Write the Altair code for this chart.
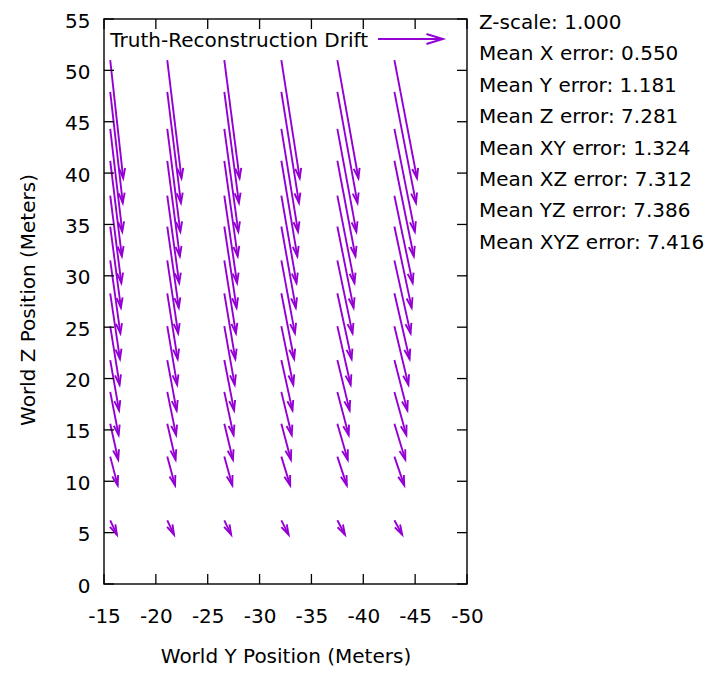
import math
import altair as alt
import pandas as pd

# ---------------- data ----------------
col_y = [-15.6, -21.1, -26.6, -32.1, -37.5, -43.0]          # truth Y of each column
z_start = [6.2, 12.4, 15.6, 18.7, 21.8, 25.1, 28.3, 31.5, 34.8, 37.8, 41.2, 44.3, 47.9, 51.0]
z_end = [4.8, 9.6, 12.1, 14.5, 16.9, 19.4, 21.9, 24.4, 26.9, 29.3, 31.9, 34.3, 37.1, 39.5]
# drift towards more negative Y, per column, per level
y_drift = [
    [0.64, 0.72, 0.77, 0.81, 0.85, 0.90, 0.94, 0.98, 1.03, 1.07, 1.12, 1.16, 1.21, 1.25],
    [0.65, 0.75, 0.80, 0.85, 0.90, 0.95, 1.00, 1.05, 1.11, 1.15, 1.21, 1.26, 1.32, 1.37],
    [0.66, 0.77, 0.83, 0.89, 0.94, 1.00, 1.06, 1.12, 1.18, 1.23, 1.29, 1.35, 1.41, 1.47],
    [0.70, 0.85, 0.92, 1.00, 1.07, 1.15, 1.23, 1.31, 1.39, 1.46, 1.54, 1.61, 1.70, 1.77],
    [0.73, 0.91, 1.00, 1.09, 1.18, 1.28, 1.37, 1.46, 1.56, 1.65, 1.74, 1.83, 1.94, 2.03],
    [0.75, 0.95, 1.05, 1.15, 1.25, 1.35, 1.46, 1.56, 1.66, 1.76, 1.87, 1.97, 2.08, 2.18],
]
x_ticks = [-15, -20, -25, -30, -35, -40, -45, -50]
y_ticks = [0, 5, 10, 15, 20, 25, 30, 35, 40, 45, 50, 55]
key_label = "Truth-Reconstruction Drift"
stats = [
    "Z-scale: 1.000",
    "Mean X error: 0.550",
    "Mean Y error: 1.181",
    "Mean Z error: 7.281",
    "Mean XY error: 1.324",
    "Mean XZ error: 7.312",
    "Mean YZ error: 7.386",
    "Mean XYZ error: 7.416",
]

# ---------------- layout / style ----------------
W, H = 363, 565
TOP = 11            # plot top sits at page y = 8 + TOP
XMIN, XMAX = -50, -15
ZMIN, ZMAX = 0, 55
SX = W / (XMAX - XMIN)
SZ = H / (ZMAX - ZMIN)
PURPLE = "#9400D3"
FONT = "DejaVu Sans"
FS = 20
HEAD = "M-0.3,1L0,0L0.3,1"
LW = 1.9

rows = []
for i, yv in enumerate(col_y):
    for j in range(len(z_start)):
        ye = yv - y_drift[i][j]
        dxp = (yv - ye) * SX
        dyp = (z_start[j] - z_end[j]) * SZ
        ang = math.degrees(math.atan2(dxp, -dyp)) % 360
        rows.append(dict(ys=yv, ye=ye, zs=z_start[j], ze=z_end[j], ang=ang))
df = pd.DataFrame(rows)

xs = alt.Scale(domain=[XMIN, XMAX], reverse=True, nice=False, zero=False)
zs = alt.Scale(domain=[ZMIN, ZMAX], nice=False, zero=False)

x_axis = alt.Axis(values=x_ticks, title="World Y Position (Meters)", grid=False,
                  ticks=False, tickSize=0, domain=False, labelPadding=22,
                  labelExpr="'' + datum.value", labelFlush=False, labelOverlap=False,
                  labelBound=False,
                  labelFontSize=FS, labelFont=FONT, labelColor="black",
                  titleFontSize=FS, titleFont=FONT, titleFontWeight="normal",
                  titleColor="black", titleX=W / 2, titleY=78,
                  titleBaseline="alphabetic", titleAlign="center")
y_axis = alt.Axis(values=y_ticks, title="World Z Position (Meters)", grid=False,
                  ticks=False, tickSize=0, domain=False, labelPadding=14,
                  labelExpr="'' + datum.value", labelFlush=False, labelOverlap=False,
                  labelBound=False, labelBaseline="alphabetic", labelOffset=8,
                  labelFontSize=FS, labelFont=FONT, labelColor="black",
                  titleFontSize=FS, titleFont=FONT, titleFontWeight="normal",
                  titleColor="black", titleX=-76, titleY=H / 2 - 2, titleAngle=270,
                  titleBaseline="middle", titleAlign="center")

shafts = alt.Chart(df).mark_rule(color=PURPLE, strokeWidth=LW).encode(
    x=alt.X("ys:Q", scale=xs, axis=x_axis),
    y=alt.Y("zs:Q", scale=zs, axis=y_axis),
    x2="ye:Q",
    y2="ze:Q",
)
heads = alt.Chart(df).mark_point(shape=HEAD, filled=False, color=PURPLE, strokeWidth=LW,
                                 size=400, opacity=1).encode(
    x=alt.X("ye:Q", scale=xs, axis=x_axis),
    y=alt.Y("ze:Q", scale=zs, axis=y_axis),
    angle=alt.Angle("ang:Q", scale=None),
)

xt = pd.DataFrame({"v": x_ticks})
yt = pd.DataFrame({"v": y_ticks})
TL = 10
tick_style = dict(color="black", strokeWidth=1.3)
ticks_bottom = alt.Chart(xt).mark_rule(**tick_style).encode(
    x=alt.X("v:Q", scale=xs, axis=x_axis), y=alt.value(H), y2=alt.value(H - TL))
ticks_top = alt.Chart(xt).mark_rule(**tick_style).encode(
    x=alt.X("v:Q", scale=xs, axis=x_axis), y=alt.value(0), y2=alt.value(TL))
ticks_left = alt.Chart(yt).mark_rule(**tick_style).encode(
    y=alt.Y("v:Q", scale=zs, axis=y_axis), x=alt.value(0), x2=alt.value(TL))
ticks_right = alt.Chart(yt).mark_rule(**tick_style).encode(
    y=alt.Y("v:Q", scale=zs, axis=y_axis), x=alt.value(W), x2=alt.value(W - TL))

# key and side text, positioned in page pixels converted to plot pixels
OY = 8 + TOP
key_df = pd.DataFrame({"t": [key_label]})
key_text = alt.Chart(key_df).mark_text(align="right", baseline="alphabetic", font=FONT,
                                       fontSize=FS, color="black").encode(
    text="t:N", x=alt.value(264), y=alt.value(47 - OY))
key_line = alt.Chart(key_df).mark_rule(color=PURPLE, strokeWidth=LW).encode(
    x=alt.value(274), x2=alt.value(339), y=alt.value(39 - OY))
key_head = alt.Chart(key_df).mark_point(shape=HEAD, filled=False, color=PURPLE,
                                        strokeWidth=LW, size=1100, opacity=1).encode(
    x=alt.value(339), y=alt.value(39 - OY), angle=alt.value(90))

stat_layers = []
for i, s in enumerate(stats):
    sdf = pd.DataFrame({"t": [s]})
    stat_layers.append(
        alt.Chart(sdf).mark_text(align="left", baseline="alphabetic", font=FONT,
                                 fontSize=FS, color="black").encode(
            text="t:N", x=alt.value(375), y=alt.value(29 - OY + 31.4 * i)))

chart = alt.layer(
    shafts, heads, ticks_bottom, ticks_top, ticks_left, ticks_right,
    key_text, key_line, key_head, *stat_layers
).properties(
    width=W, height=H,
    padding={"left": 96, "top": TOP, "right": 240, "bottom": 88},
    autosize=alt.AutoSizeParams(type="none"),
    background="white",
).configure_view(stroke="#111111", strokeWidth=1.5)

chart.save("out.html", embed_options={"renderer": "svg", "actions": False})
